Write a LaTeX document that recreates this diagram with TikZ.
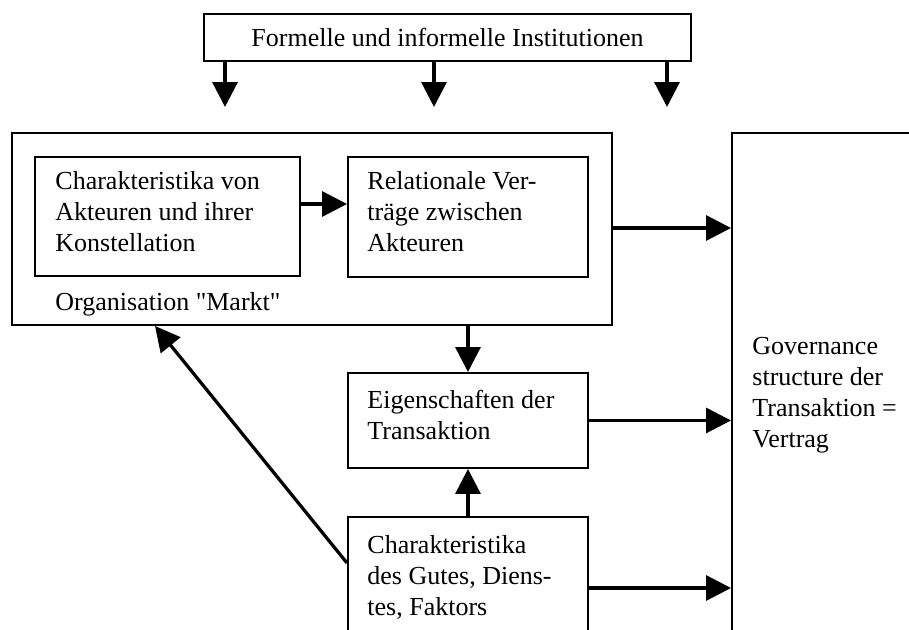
\documentclass[tikz,border=0pt]{standalone}
\usepackage{fontspec}
\newfontfamily\rawserif{Liberation Serif}
\usetikzlibrary{arrows.meta}
\def\u{0.4615pt}
\tikzset{
  every node/.style={font=\rawserif\fontsize{12}{14.3}\selectfont},
  box/.style={draw, line width=0.9pt, rectangle, inner sep=0pt, anchor=north west},
  txt/.style={inner sep=0pt, anchor=base west, align=left},
  arr/.style={line width=1.5pt, -{Triangle[length=11.5pt,width=11.5pt]}}
}
\begin{document}
\begin{tikzpicture}[x=0.4615pt, y=-0.4615pt]
\useasboundingbox (0,0) rectangle (909,630);
% boxes
\node[box, minimum width=487*\u, minimum height=47*\u] (top) at (203,13) {Formelle und informelle Institutionen};
\node[box, minimum width=600*\u, minimum height=192*\u] (outer) at (11,132) {};
\node[box, minimum width=265*\u, minimum height=119*\u] (b1) at (34,156) {};
\node[box, minimum width=240*\u, minimum height=120*\u] (b2) at (347,156) {};
\node[box, minimum width=240*\u, minimum height=95*\u] (eig) at (347,372) {};
\node[box, minimum width=240*\u, minimum height=150*\u] (bot) at (347,516) {};
\node[box, minimum width=220*\u, minimum height=530*\u] (gov) at (731,132) {};
% texts (base anchor = baseline of the last line)
\node[txt] (t1) at (55,251) {Charakteristika von\\Akteuren und ihrer\\Konstellation};
\node[txt] (t2) at (367,251) {Relationale Ver-\\träge zwischen\\Akteuren};
\node[txt] (torg) at (55,310) {Organisation "Markt"};
\node[txt] (teig) at (367,439) {Eigenschaften der\\Transaktion};
\node[txt] (tbot) at (367,615) {Charakteristika\\des Gutes, Diens-\\tes, Faktors};
\node[txt] (tgov) at (752,447) {Governance\\structure der\\Transaktion =\\Vertrag};
% free ends
\coordinate (d1) at (225,107);
\coordinate (d2) at (434,107);
\coordinate (d3) at (667,107);
% connectors
\draw[arr] (top.south -| d1) -- (d1);
\draw[arr] (top.south -| d2) -- (d2);
\draw[arr] (top.south -| d3) -- (d3);
\draw[arr] (b1.east |- 0,204) -- (b2.west |- 0,204);
\draw[arr] (outer.east |- 0,228) -- (gov.west |- 0,228);
\draw[arr] (outer.south -| eig.north) -- (eig.north);
\draw[arr] (eig.east) -- (gov.west |- eig.east);
\draw[arr] (bot.north -| eig.south) -- (eig.south);
\draw[arr] (bot.east |- 0,588) -- (gov.west |- 0,588);
\draw[arr] (bot.west |- 0,563) -- (outer.south -| 155,0);
\end{tikzpicture}
\end{document}
